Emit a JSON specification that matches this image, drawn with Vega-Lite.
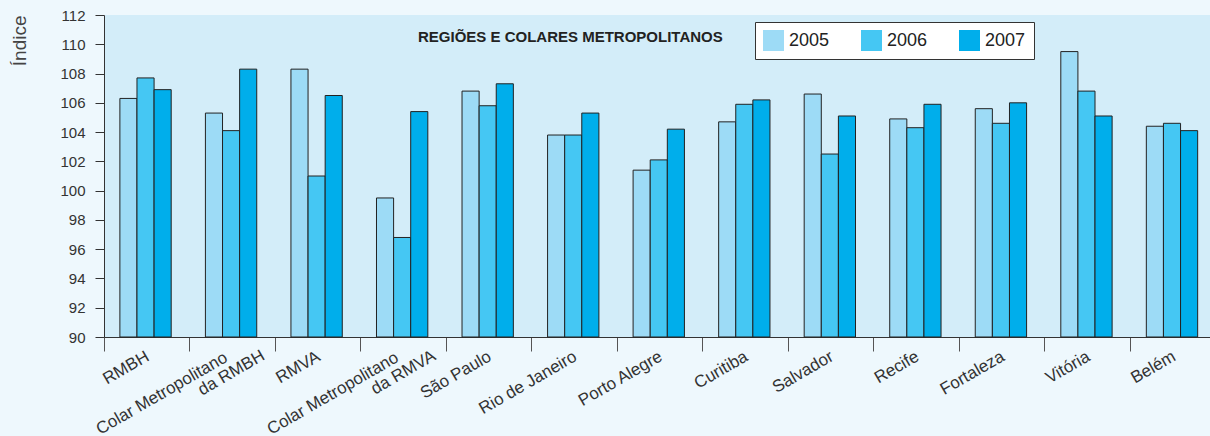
{
  "$schema": "https://vega.github.io/schema/vega-lite/v6.json",
  "autosize": "none",
  "width": 1106,
  "height": 322,
  "padding": {"left": 104, "top": 15, "right": 0, "bottom": 99},
  "background": "#EEF8FD",
  "view": {"fill": "#D3EDF9", "stroke": null},
  "title": {
    "text": "REGIÕES E COLARES METROPOLITANOS",
    "anchor": "start",
    "frame": "group",
    "orient": "top",
    "baseline": "top",
    "offset": 0,
    "dx": 314,
    "dy": 37,
    "font": "Liberation Sans",
    "fontSize": 15,
    "fontWeight": "bold",
    "color": "#222222"
  },
  "data": {
    "values": [
      {"regiao": "RMBH", "ano": "2005", "indice": 106.3},
      {"regiao": "RMBH", "ano": "2006", "indice": 107.7},
      {"regiao": "RMBH", "ano": "2007", "indice": 106.9},
      {"regiao": "Colar Metropolitano da RMBH", "ano": "2005", "indice": 105.3},
      {"regiao": "Colar Metropolitano da RMBH", "ano": "2006", "indice": 104.1},
      {"regiao": "Colar Metropolitano da RMBH", "ano": "2007", "indice": 108.3},
      {"regiao": "RMVA", "ano": "2005", "indice": 108.3},
      {"regiao": "RMVA", "ano": "2006", "indice": 101.0},
      {"regiao": "RMVA", "ano": "2007", "indice": 106.5},
      {"regiao": "Colar Metropolitano da RMVA", "ano": "2005", "indice": 99.5},
      {"regiao": "Colar Metropolitano da RMVA", "ano": "2006", "indice": 96.8},
      {"regiao": "Colar Metropolitano da RMVA", "ano": "2007", "indice": 105.4},
      {"regiao": "São Paulo", "ano": "2005", "indice": 106.8},
      {"regiao": "São Paulo", "ano": "2006", "indice": 105.8},
      {"regiao": "São Paulo", "ano": "2007", "indice": 107.3},
      {"regiao": "Rio de Janeiro", "ano": "2005", "indice": 103.8},
      {"regiao": "Rio de Janeiro", "ano": "2006", "indice": 103.8},
      {"regiao": "Rio de Janeiro", "ano": "2007", "indice": 105.3},
      {"regiao": "Porto Alegre", "ano": "2005", "indice": 101.4},
      {"regiao": "Porto Alegre", "ano": "2006", "indice": 102.1},
      {"regiao": "Porto Alegre", "ano": "2007", "indice": 104.2},
      {"regiao": "Curitiba", "ano": "2005", "indice": 104.7},
      {"regiao": "Curitiba", "ano": "2006", "indice": 105.9},
      {"regiao": "Curitiba", "ano": "2007", "indice": 106.2},
      {"regiao": "Salvador", "ano": "2005", "indice": 106.6},
      {"regiao": "Salvador", "ano": "2006", "indice": 102.5},
      {"regiao": "Salvador", "ano": "2007", "indice": 105.1},
      {"regiao": "Recife", "ano": "2005", "indice": 104.9},
      {"regiao": "Recife", "ano": "2006", "indice": 104.3},
      {"regiao": "Recife", "ano": "2007", "indice": 105.9},
      {"regiao": "Fortaleza", "ano": "2005", "indice": 105.6},
      {"regiao": "Fortaleza", "ano": "2006", "indice": 104.6},
      {"regiao": "Fortaleza", "ano": "2007", "indice": 106.0},
      {"regiao": "Vitória", "ano": "2005", "indice": 109.5},
      {"regiao": "Vitória", "ano": "2006", "indice": 106.8},
      {"regiao": "Vitória", "ano": "2007", "indice": 105.1},
      {"regiao": "Belém", "ano": "2005", "indice": 104.4},
      {"regiao": "Belém", "ano": "2006", "indice": 104.6},
      {"regiao": "Belém", "ano": "2007", "indice": 104.1}
    ]
  },
  "mark": {"type": "bar", "stroke": "#222222", "strokeWidth": 1},
  "encoding": {
    "x": {
      "field": "regiao",
      "type": "nominal",
      "sort": null,
      "scale": {"range": [0, 1112], "paddingInner": 0, "paddingOuter": 0},
      "axis": {
        "title": null,
        "bandPosition": 0,
        "domainColor": "#333333",
        "tickColor": "#555555",
        "tickSize": 14,
        "labelAngle": -30,
        "labelAlign": "right",
        "labelBaseline": "top",
        "labelFont": "Liberation Sans",
        "labelFontSize": 17,
        "labelColor": "#333333",
        "labelLineHeight": 17,
        "labelLimit": 0,
        "labelOverlap": false,
        "labelBound": false,
        "labelPadding": {"condition": {"test": "indexof(datum.value, 'Colar') == 0", "value": -18.5}, "value": -3},
        "labelOffset": {"condition": {"test": "indexof(datum.value, 'Colar') == 0", "value": 18.5}, "value": -3},
        "labelExpr": "indexof(datum.value, 'Colar') == 0 ? [slice(datum.value, 0, 19) + '\u00a0\u00a0\u00a0\u00a0\u00a0\u00a0\u00a0\u200b', slice(datum.value, 20)] : datum.value"
      }
    },
    "xOffset": {
      "field": "ano",
      "type": "nominal",
      "scale": {"paddingInner": 0, "paddingOuter": 1.016, "align": 0.464}
    },
    "y": {
      "field": "indice",
      "type": "quantitative",
      "scale": {"domain": [90, 112], "zero": false, "nice": false},
      "axis": {
        "values": [90, 92, 94, 96, 98, 100, 102, 104, 106, 108, 110, 112],
        "grid": false,
        "domainColor": "#333333",
        "tickColor": "#333333",
        "tickSize": 9,
        "labelPadding": 10,
        "labelFont": "Liberation Sans",
        "labelFontSize": 15,
        "labelColor": "#333333",
        "title": "Índice",
        "titleFont": "Liberation Sans",
        "titleFontSize": 19,
        "titleFontWeight": "normal",
        "titleColor": "#444444",
        "titleAngle": -90,
        "titleAlign": "right",
        "titleBaseline": "middle",
        "titleX": -85,
        "titleY": 0
      }
    },
    "y2": {"datum": 90},
    "color": {
      "field": "ano",
      "type": "nominal",
      "scale": {"domain": ["2005", "2006", "2007"], "range": ["#9DDBF6", "#45C7F3", "#00AEEB"]},
      "legend": {
        "title": null,
        "orient": "none",
        "legendX": 651,
        "legendY": 7,
        "direction": "horizontal",
        "fillColor": "#FFFFFF",
        "strokeColor": "#333333",
        "padding": 8,
        "symbolType": "square",
        "symbolSize": 441,
        "symbolStrokeWidth": 0,
        "symbolOpacity": 1,
        "labelFont": "Liberation Sans",
        "labelFontSize": 18,
        "labelColor": "#222222",
        "labelOffset": 5,
        "columnPadding": 31
      }
    }
  }
}
